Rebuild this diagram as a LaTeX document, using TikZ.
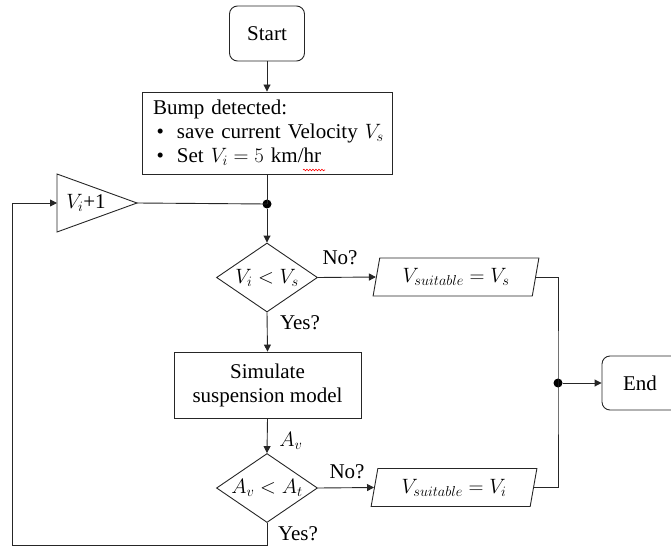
\documentclass[tikz,border=0pt]{standalone}
\usepackage{fontspec}
\setmainfont{Liberation Serif}
\usetikzlibrary{arrows.meta,shapes.geometric,decorations.pathmorphing}
\begin{document}
\begin{tikzpicture}[x=1pt,y=-1pt,
  every node/.style={font=\fontsize{21}{24}\selectfont},
  line/.style={draw=black!85, line width=0.9pt},
  arr/.style={line, -{Triangle[length=7pt,width=7pt]}},
  term/.style={draw=black!85, line width=0.9pt, rounded corners=8pt, minimum width=75pt, minimum height=55pt, inner sep=0pt},
  proc/.style={draw=black!85, rectangle, line width=0.9pt, inner sep=0pt},
  dec/.style={draw=black!85, diamond, shape aspect=1.46, line width=0.9pt, minimum width=101pt, minimum height=69pt, inner sep=0pt},
  io/.style={draw=black!85, trapezium, trapezium left angle=75, trapezium right angle=105, trapezium stretches=true, minimum width=166pt, minimum height=38pt, inner sep=0pt, line width=0.9pt},
  dot/.style={circle, fill=black, inner sep=0pt, minimum size=9pt},
  lbl/.style={inner sep=0pt}
]
\useasboundingbox (0,0) rectangle (671,548);

\node[term] (start) at (267,33.5) {Start};
\node[proc, minimum width=250pt, minimum height=82pt, text width=240pt, inner xsep=5pt, align=left] (bump) at (267,133)
  {\hspace*{6pt}Bump detected:\\
   \mbox{\hspace*{6pt}\makebox[24pt][l]{\,\textbullet}save current Velocity $V_s$}\\
   \mbox{\hspace*{6pt}\makebox[24pt][l]{\,\textbullet}Set $V_i = 5$ km/\textrm{hr}}};
\node[dot] (j1) at (267,204) {};
\node[dec] (d1) at (267,277.5) {$V_i < V_s$};
\node[io] (p1) at (456,277) {$V_{suitable} = V_s$};
\node[proc, minimum width=187pt, minimum height=66pt, align=center] (sim) at (267.5,385) {Simulate\\suspension model};
\node[dec] (d2) at (267,488) {$A_v < A_t$};
\node[io] (p2) at (454,487.5) {$V_{suitable} = V_i$};
\node[dot] (j2) at (558,383) {};
\node[term, minimum height=54pt, minimum width=90pt] (end) at (647,383) {End\hspace*{14pt}};

% increment triangle
\draw[line] (57,174) -- (137,203) -- (57,232) -- cycle;
\coordinate (tin) at (57,203);
\coordinate (ttip) at (137,203);
\node (tri) at (86,203) {$V_i$+1};
\coordinate (lb) at (12,545);

% connectors
\draw[arr] (start) -- (bump);
\draw[line] (bump.south) -- (j1.center);
\draw[line] (j1.center) -- (ttip);
\draw[arr] (j1) -- (d1.north);
\draw[arr] (d1.east) -- (p1.west);
\draw[arr] (d1.south) -- (sim.north);
\draw[arr] (sim.south) -- (d2.north);
\draw[arr] (d2.east) -- (p2.west);
\draw[line] (p1.east) -| (j2.center) |- (p2.east);
\draw[arr] (j2) -- (end.west);
\draw[arr] (d2.south) |- (lb) |- (tin);

% labels
\node[lbl] (no1) at (340,258) {No?};
\node[lbl] (yes1) at (300,323) {Yes?};
\node[lbl] (av) at (291,441) {$A_v$};
\node[lbl] (no2) at (347,472) {No?};
\node[lbl] (yes2) at (298,534) {Yes?};

% spell-check squiggle
\draw[red, line width=0.6pt, decorate, decoration={snake, segment length=3pt, amplitude=0.8pt}] (303,170) -- (325,170);
\end{tikzpicture}
\end{document}
